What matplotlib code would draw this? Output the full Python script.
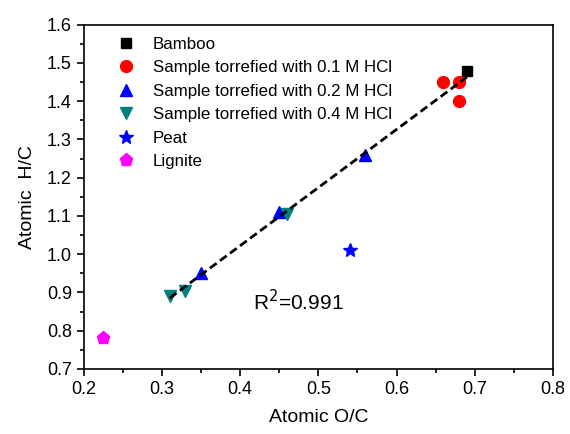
import matplotlib
matplotlib.use("Agg")
import matplotlib.pyplot as plt
from matplotlib.ticker import MultipleLocator
import numpy as np

plt.rcParams['font.family'] = ['Liberation Sans', 'DejaVu Sans']

# data (atomic O/C, atomic H/C)
bamboo_oc = [0.69]
bamboo_hc = [1.48]
hcl01_oc = [0.66, 0.68, 0.68]
hcl01_hc = [1.45, 1.45, 1.40]
hcl02_oc = [0.56, 0.45, 0.35]
hcl02_hc = [1.26, 1.11, 0.95]
hcl04_oc = [0.46, 0.33, 0.31]
hcl04_hc = [1.105, 0.905, 0.89]
peat_oc = [0.54]
peat_hc = [1.01]
lignite_oc = [0.225]
lignite_hc = [0.78]

fig = plt.figure(figsize=(5.7, 4.34), dpi=100)
ax = fig.add_axes([0.147, 0.150, 0.823, 0.793])

ax.plot(bamboo_oc, bamboo_hc, 's', color='black', ms=7.5, ls='none', label='Bamboo', zorder=3)
ax.plot(hcl01_oc, hcl01_hc, 'o', color='#ff0000', ms=8.5, ls='none',
        label='Sample torrefied with 0.1 M HCl', zorder=3)
ax.plot(hcl02_oc, hcl02_hc, '^', color='#0000ff', ms=9, ls='none',
        label='Sample torrefied with 0.2 M HCl', zorder=3)
ax.plot(hcl04_oc, hcl04_hc, 'v', color='#008080', ms=9, ls='none',
        label='Sample torrefied with 0.4 M HCl', zorder=3)
ax.plot(peat_oc, peat_hc, '*', color='#0000ff', ms=10, ls='none', label='Peat', zorder=3)
ax.plot(lignite_oc, lignite_hc, 'p', color='#ff00ff', ms=9.5, ls='none', label='Lignite', zorder=3)

# linear fit through bamboo and torrefied samples
fit_x = np.array(bamboo_oc + hcl01_oc + hcl02_oc + hcl04_oc)
fit_y = np.array(bamboo_hc + hcl01_hc + hcl02_hc + hcl04_hc)
k, b = np.polyfit(fit_x, fit_y, 1)
xs = np.array([fit_x.min(), fit_x.max()])
ax.plot(xs, k * xs + b, '--', color='black', lw=2, dashes=(3, 1.5), zorder=4)

ax.text(0.416, 0.875, r'R$^2$=0.991', fontsize=15, va='center', ha='left')

ax.set_xlim(0.2, 0.8)
ax.set_ylim(0.7, 1.6)
ax.xaxis.set_major_locator(MultipleLocator(0.1))
ax.xaxis.set_minor_locator(MultipleLocator(0.05))
ax.yaxis.set_major_locator(MultipleLocator(0.1))
ax.yaxis.set_minor_locator(MultipleLocator(0.05))
ax.tick_params(which='both', direction='out', top=False, right=False, labelsize=13, width=1.2)
ax.tick_params(which='major', length=5)
ax.tick_params(which='minor', length=3)
for s in ax.spines.values():
    s.set_linewidth(1.2)

ax.set_xlabel('Atomic O/C', fontsize=14, labelpad=8)
ax.set_ylabel('Atomic  H/C', fontsize=14, labelpad=8)

ax.legend(loc='upper left', bbox_to_anchor=(0.032, 0.995), frameon=False, fontsize=12.2,
          handletextpad=0.6, labelspacing=0.5, borderaxespad=0.2)

fig.savefig('out.png', dpi=100)
